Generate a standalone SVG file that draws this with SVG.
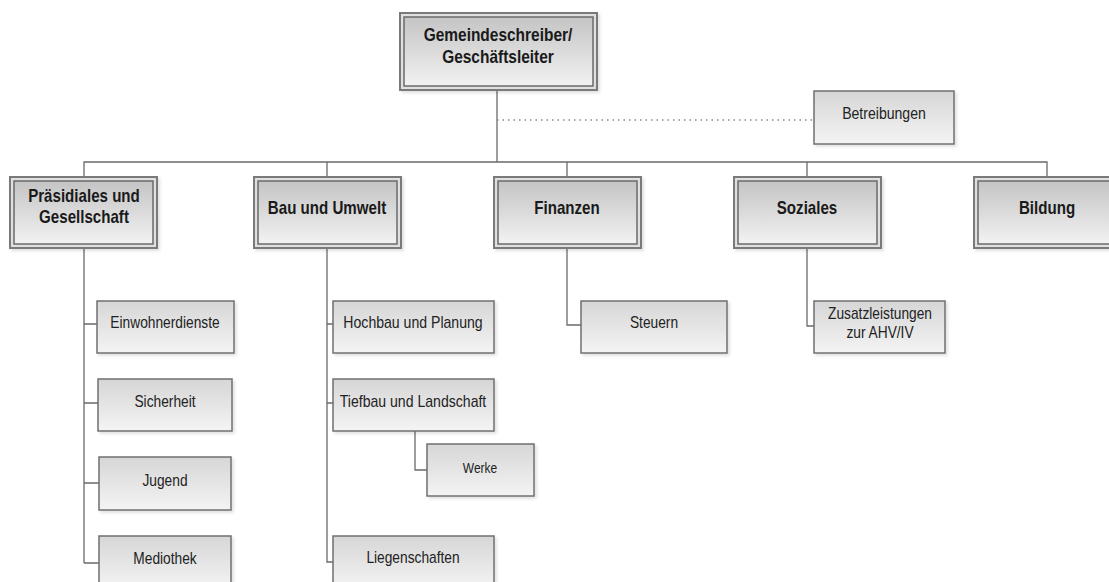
<svg xmlns="http://www.w3.org/2000/svg" width="1109" height="582" viewBox="0 0 1109 582">
<defs>
<linearGradient id="g1" x1="0" y1="0" x2="0" y2="1"><stop offset="0" stop-color="#c4c4c4"/><stop offset="1" stop-color="#f2f2f2"/></linearGradient>
<linearGradient id="g2" x1="0" y1="0" x2="0" y2="1"><stop offset="0" stop-color="#d6d6d6"/><stop offset="1" stop-color="#f4f4f4"/></linearGradient>
<filter id="sh" x="-10%" y="-10%" width="130%" height="130%"><feDropShadow dx="2" dy="2" stdDeviation="1.5" flood-color="#000" flood-opacity="0.12"/></filter>
</defs>
<style>
.o{fill:#e0e0e0;stroke:#7a7a7a;stroke-width:2;filter:url(#sh)}
.i{fill:url(#g1);stroke:#6a6a6a;stroke-width:1.5}
.s{fill:url(#g2);stroke:#707070;stroke-width:1.5;filter:url(#sh)}
.b{font-family:"Liberation Sans",Arial,sans-serif;font-weight:bold;font-size:18px;fill:#1a1a1a;text-anchor:middle}
.t{font-family:"Liberation Sans",Arial,sans-serif;font-size:16px;fill:#222;text-anchor:middle}
.c{fill:none;stroke:#6a6a6a;stroke-width:1.3}
.d{fill:none;stroke:#888;stroke-width:1.3;stroke-dasharray:1.5 4}
</style>
<rect width="1109" height="582" fill="#fff"/>
<g id="connectors">
<path class="c" d="M497 90 V162 M84 177 V162 H1047 V177 M327 162 V177 M567 162 V177 M807 162 V177"/>
<path class="d" d="M497 120 H814"/>
<path class="c" d="M84 248 V563 M84 324 H97 M84 403 H98 M84 483 H99 M84 563 H99"/>
<path class="c" d="M327 248 V562 H333 M327 324 H333 M327 403 H333"/>
<path class="c" d="M415 431 V470 H427"/>
<path class="c" d="M567 248 V325 H581"/>
<path class="c" d="M807 248 V326 H814"/>
</g>
<g id="n-gemeindeschreiber">
<rect class="o" x="400" y="13" width="197" height="77"/><rect class="i" x="404" y="17" width="189" height="69"/>
<text class="b" transform="translate(498 41) scale(0.86 1)">Gemeindeschreiber/</text><text class="b" transform="translate(498 63) scale(0.86 1)">Geschäftsleiter</text>
</g>
<g id="n-betreibungen"><rect class="s" x="814" y="91" width="140" height="53"/><text class="t" transform="translate(884 119) scale(0.88 1)">Betreibungen</text></g>
<g id="n-praesidiales">
<rect class="o" x="10" y="177" width="147" height="71"/><rect class="i" x="14" y="181" width="139" height="63"/>
<text class="b" transform="translate(84 202) scale(0.84 1)">Präsidiales und</text><text class="b" transform="translate(84 223) scale(0.84 1)">Gesellschaft</text>
</g>
<g id="n-bau">
<rect class="o" x="254" y="177" width="147" height="71"/><rect class="i" x="258" y="181" width="139" height="63"/>
<text class="b" transform="translate(327 214) scale(0.84 1)">Bau und Umwelt</text>
</g>
<g id="n-finanzen">
<rect class="o" x="494" y="177" width="147" height="71"/><rect class="i" x="498" y="181" width="139" height="63"/>
<text class="b" transform="translate(567 214) scale(0.84 1)">Finanzen</text>
</g>
<g id="n-soziales">
<rect class="o" x="734" y="177" width="147" height="71"/><rect class="i" x="738" y="181" width="139" height="63"/>
<text class="b" transform="translate(807 214) scale(0.84 1)">Soziales</text>
</g>
<g id="n-bildung">
<rect class="o" x="974" y="177" width="147" height="71"/><rect class="i" x="978" y="181" width="139" height="63"/>
<text class="b" transform="translate(1047 214) scale(0.84 1)">Bildung</text>
</g>
<g id="n-einwohnerdienste"><rect class="s" x="97" y="301" width="137" height="52"/><text class="t" transform="translate(165 328) scale(0.86 1)">Einwohnerdienste</text></g>
<g id="n-sicherheit"><rect class="s" x="98" y="379" width="134" height="52"/><text class="t" transform="translate(165 407) scale(0.86 1)">Sicherheit</text></g>
<g id="n-jugend"><rect class="s" x="99" y="457" width="132" height="53"/><text class="t" transform="translate(165 486) scale(0.86 1)">Jugend</text></g>
<g id="n-mediothek"><rect class="s" x="99" y="536" width="132" height="53"/><text class="t" transform="translate(165 564) scale(0.86 1)">Mediothek</text></g>
<g id="n-hochbau"><rect class="s" x="333" y="301" width="161" height="52"/><text class="t" transform="translate(413 328) scale(0.88 1)">Hochbau und Planung</text></g>
<g id="n-tiefbau"><rect class="s" x="333" y="379" width="161" height="52"/><text class="t" transform="translate(413 407) scale(0.88 1)">Tiefbau und Landschaft</text></g>
<g id="n-werke"><rect class="s" x="427" y="444" width="107" height="52"/><text class="t" transform="translate(480 473) scale(0.8 1)" style="font-size:15px">Werke</text></g>
<g id="n-liegenschaften"><rect class="s" x="333" y="536" width="161" height="53"/><text class="t" transform="translate(413 563) scale(0.86 1)">Liegenschaften</text></g>
<g id="n-steuern"><rect class="s" x="581" y="301" width="146" height="52"/><text class="t" transform="translate(654 328) scale(0.86 1)">Steuern</text></g>
<g id="n-zusatz"><rect class="s" x="814" y="301" width="131" height="52"/><text class="t" transform="translate(880 319) scale(0.86 1)">Zusatzleistungen</text><text class="t" transform="translate(880 338) scale(0.86 1)">zur AHV/IV</text></g>
</svg>
